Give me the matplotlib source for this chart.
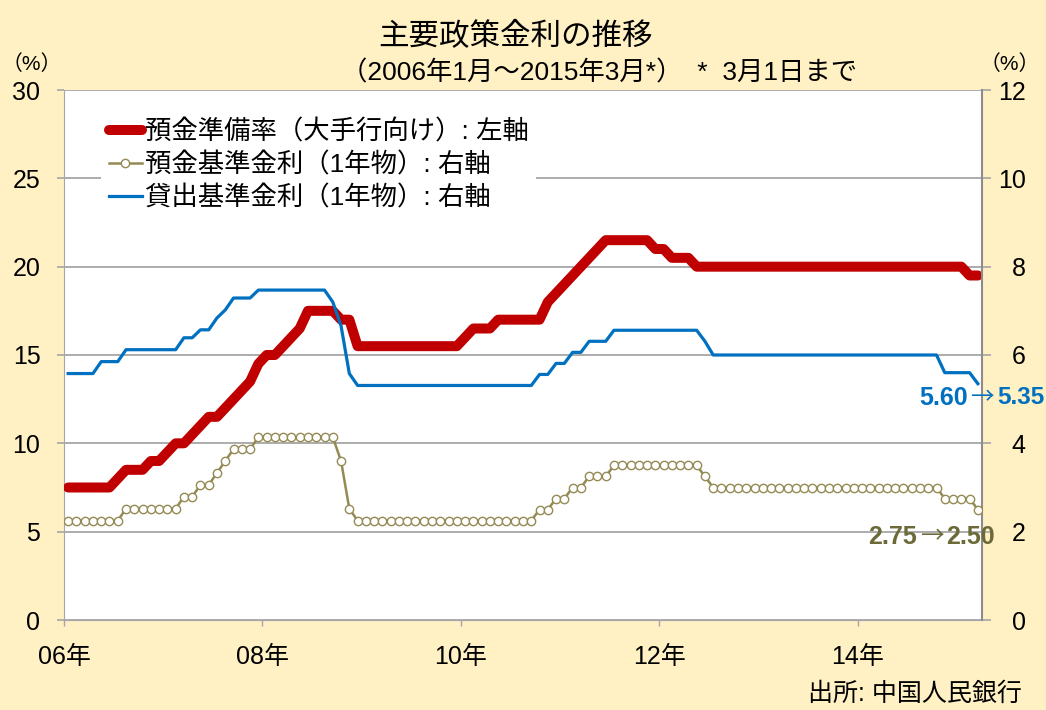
import numpy as np
import matplotlib
matplotlib.use("Agg")
from matplotlib import pyplot as plt

plt.rcParams['font.family'] = ['Liberation Sans', 'Noto Sans CJK JP', 'DejaVu Sans']

# monthly data, Jan 2006 - Mar 2015 (month-end values)
reserve = ([7.5]*6 + [8.0, 8.5, 8.5, 8.5, 9.0, 9.0]                                  # 2006
           + [9.5, 10.0, 10.0, 10.5, 11.0, 11.5, 11.5, 12.0, 12.5, 13.0, 13.5, 14.5]  # 2007
           + [15.0, 15.0, 15.5, 16.0, 16.5, 17.5, 17.5, 17.5, 17.5, 17.0, 17.0, 15.5] # 2008
           + [15.5]*12                                                                # 2009
           + [16.0, 16.5, 16.5, 16.5] + [17.0]*6 + [18.0, 18.5]                       # 2010
           + [19.0, 19.5, 20.0, 20.5, 21.0] + [21.5]*6 + [21.0]                       # 2011
           + [21.0, 20.5, 20.5, 20.5] + [20.0]*8                                      # 2012
           + [20.0]*12 + [20.0]*12                                                    # 2013-14
           + [20.0, 19.5, 19.5])                                                      # 2015

deposit = ([2.25]*7 + [2.52]*5
           + [2.52, 2.52, 2.79, 2.79, 3.06, 3.06, 3.33, 3.60, 3.87, 3.87, 3.87, 4.14]
           + [4.14]*9 + [3.60, 2.52, 2.25]
           + [2.25]*12
           + [2.25]*9 + [2.50, 2.50, 2.75]
           + [2.75, 3.00, 3.00, 3.25, 3.25, 3.25] + [3.50]*6
           + [3.50]*5 + [3.25] + [3.00]*6
           + [3.00]*12
           + [3.00]*10 + [2.75, 2.75]
           + [2.75, 2.75, 2.50])

lending = ([5.58]*4 + [5.85]*3 + [6.12]*5
           + [6.12, 6.12, 6.39, 6.39, 6.57, 6.57, 6.84, 7.02, 7.29, 7.29, 7.29, 7.47]
           + [7.47]*8 + [7.20, 6.66, 5.58, 5.31]
           + [5.31]*12
           + [5.31]*9 + [5.56, 5.56, 5.81]
           + [5.81, 6.06, 6.06, 6.31, 6.31, 6.31] + [6.56]*6
           + [6.56]*5 + [6.31] + [6.00]*6
           + [6.00]*12
           + [6.00]*10 + [5.60, 5.60]
           + [5.60, 5.60, 5.35])

xticks = [0, 24, 48, 72, 96]
xlabels = ['06年', '08年', '10年', '12年', '14年']

bg = '#FFF1C4'
grid_c = '#A6A6A6'
red = '#C00000'
blue = '#0070C0'
olive = '#948A54'
olive_dark = '#6B6A38'

fig = plt.figure(figsize=(10.46, 7.10), dpi=100, facecolor=bg)
ax = fig.add_axes([64/1046, 90/710, 918/1046, 530/710])
ax.set_facecolor('white')
ax2 = ax.twinx()

x = np.arange(len(reserve)) + 0.5

l1, = ax.plot(x, reserve, color=red, lw=7.2, solid_capstyle='round',
              solid_joinstyle='round', zorder=3)
l2, = ax2.plot(x, deposit, color=olive, lw=1.8, marker='o', ms=6,
               mfc='white', mec=olive, mew=1.0, zorder=3)
l3, = ax2.plot(x, lending, color=blue, lw=2.3, zorder=3)

ax.set_xlim(0, 111)
ax.set_ylim(0, 30)
ax2.set_ylim(0, 12)
ax.set_yticks(range(0, 31, 5))
ax2.set_yticks(range(0, 13, 2))
ax.set_xticks(xticks)
ax.set_xticklabels(xlabels)

ax.grid(axis='y', color=grid_c, lw=1.3)
ax.set_axisbelow(True)
ax.spines['top'].set_visible(False)
ax2.spines['top'].set_visible(False)
ax2.spines['left'].set_visible(False)
ax2.spines['bottom'].set_visible(False)
ax.spines['left'].set_color(grid_c)
ax.spines['bottom'].set_color(grid_c)
ax.spines['right'].set_visible(False)
ax2.spines['right'].set_color('#8C8C8C')
ax2.spines['right'].set_linewidth(1.5)

ax.tick_params(axis='y', length=5, color=grid_c, width=1.2, labelsize=18, pad=12)
ax.tick_params(axis='x', length=4, color=grid_c, width=1, labelsize=18, pad=14)
ax2.tick_params(axis='y', length=6.5, color=grid_c, width=1.2, labelsize=18, pad=25)
for t in ax2.get_yticklabels():
    t.set_horizontalalignment('right')

leg = ax2.legend([l1, l2, l3],
                 ['預金準備率（大手行向け）: 左軸', '預金基準金利（1年物）: 右軸', '貸出基準金利（1年物）: 右軸'],
                 loc='upper left', bbox_to_anchor=(0.026, 0.985), fontsize=19,
                 frameon=True, facecolor='white', edgecolor='none', fancybox=False,
                 framealpha=1, handlelength=1.25, handletextpad=0.1, labelspacing=0.3,
                 borderpad=0.3)

fig.text(515/1046, 1 - 37/710, '主要政策金利の推移', ha='center', va='center', fontsize=22)
fig.text(341/1046, 1 - 73/710, '（2006年1月～2015年3月*）  *  3月1日まで', ha='left', va='center', fontsize=19)
fig.text(32/1046, 1 - 64/710, '（%）', ha='center', va='center', fontsize=15)
fig.text(1010/1046, 1 - 64/710, '（%）', ha='center', va='center', fontsize=15)

# end labels: old → new
fig.text(919/1046, 1 - 398/710, '5.60', ha='left', va='center', fontsize=18,
         fontweight='bold', color=blue)
fig.text(982/1046, 1 - 398/710, '→', ha='center', va='center', fontsize=17,
         family=['Noto Sans CJK JP'], color=blue)
fig.text(997/1046, 1 - 398/710, '5.35', ha='left', va='center', fontsize=17.5,
         fontweight='bold', color=blue)
fig.text(868/1046, 1 - 537/710, '2.75', ha='left', va='center', fontsize=18,
         fontweight='bold', color=olive_dark)
fig.text(932/1046, 1 - 537/710, '→', ha='center', va='center', fontsize=17,
         family=['Noto Sans CJK JP'], color=olive_dark)
fig.text(946/1046, 1 - 537/710, '2.50', ha='left', va='center', fontsize=18,
         fontweight='bold', color=olive_dark)

fig.text(1022/1046, 1 - 694/710, '出所: 中国人民銀行', ha='right', va='center', fontsize=18)

fig.savefig('out.png', dpi=100, facecolor=bg)
